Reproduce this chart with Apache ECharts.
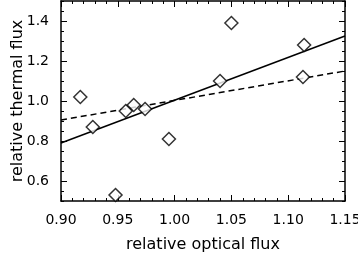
<!DOCTYPE html>
<html><head><meta charset="utf-8">
<script src="https://cdn.jsdelivr.net/npm/echarts@6/dist/echarts.min.js"></script>
<style>html,body{margin:0;padding:0;background:#fff}#c{width:358px;height:259px}</style>
</head><body><div id="c"></div>
<script>
const xTicks = [0.90, 0.95, 1.00, 1.05, 1.10, 1.15];
const yTicks = [0.6, 0.8, 1.0, 1.2, 1.4];
const pointsX = [0.917, 0.928, 0.957, 0.964, 0.974, 0.995, 0.948, 1.050, 1.040, 1.114, 1.113];
const pointsY = [1.02, 0.87, 0.95, 0.98, 0.96, 0.81, 0.53, 1.39, 1.10, 1.28, 1.12];
const solidFitX = [0.90, 1.15];
const solidFitY = [0.79, 1.325];
const dashedFitX = [0.90, 1.15];
const dashedFitY = [0.905, 1.15];

const font = 'DejaVu Sans, Verdana, sans-serif';
const zip = (a, b) => a.map((v, i) => [v, b[i]]);
const lineCol = { color: '#000', width: 1 };

function xAx(pos, show) {
  return {
    type: 'value', position: pos, min: 0.90, max: 1.15, interval: 0.05,
    axisLine: { show: true, onZero: false, lineStyle: { color: '#000', width: 1.5 } },
    axisTick: { show: true, inside: true, length: 6, lineStyle: lineCol },
    minorTick: { show: true, splitNumber: 5, length: 3, lineStyle: lineCol },
    splitLine: { show: false },
    axisLabel: { show: show, color: '#000', fontFamily: font, fontSize: 14, margin: 12,
      customValues: xTicks, formatter: v => v.toFixed(2) },
    name: show ? 'relative optical flux' : '', nameLocation: 'middle', nameGap: 36,
    nameMoveOverlap: false,
    nameTextStyle: { color: '#000', fontFamily: font, fontSize: 16 }
  };
}
// major (labelled) y axis: ticks only at yTicks
function yMajor(pos, show) {
  return {
    type: 'value', position: pos, min: 0.5, max: 1.5, interval: 0.05,
    axisLine: { show: true, onZero: false, lineStyle: { color: '#000', width: 1.5 } },
    axisTick: { show: true, inside: true, length: 6, customValues: yTicks, lineStyle: lineCol },
    minorTick: { show: false },
    splitLine: { show: false },
    axisLabel: { show: show, color: '#000', fontFamily: font, fontSize: 14, margin: 12,
      customValues: yTicks, formatter: v => v.toFixed(1) },
    name: show ? 'relative thermal flux' : '', nameLocation: 'middle', nameGap: 35,
    nameMoveOverlap: false,
    nameTextStyle: { color: '#000', fontFamily: font, fontSize: 16 }
  };
}
// minor y ticks every 0.05
function yMinor(pos) {
  return {
    type: 'value', position: pos, min: 0.5, max: 1.5, interval: 0.05,
    axisLine: { show: false, onZero: false },
    axisTick: { show: true, inside: true, length: 3, lineStyle: lineCol },
    axisLabel: { show: false }, splitLine: { show: false }
  };
}

const chart = echarts.init(document.getElementById('c'), null, { renderer: 'canvas' });
chart.setOption({
  animation: false,
  backgroundColor: '#fff',
  grid: { left: 61, right: 13, top: 1, bottom: 58, containLabel: false, outerBoundsMode: 'none' },
  xAxis: [xAx('bottom', true), xAx('top', false)],
  yAxis: [yMajor('left', true), yMajor('right', false), yMinor('left'), yMinor('right')],
  series: [
    { type: 'line', data: zip(solidFitX, solidFitY), symbol: 'none', silent: true,
      lineStyle: { color: '#000', width: 1.5 } },
    { type: 'line', data: zip(dashedFitX, dashedFitY), symbol: 'none', silent: true,
      lineStyle: { color: '#000', width: 1.5, type: [6, 4] } },
    { type: 'scatter', data: zip(pointsX, pointsY), symbol: 'diamond', symbolSize: [13, 13],
      itemStyle: { color: '#fff', borderColor: '#000', borderWidth: 1.5 }, z: 5 }
  ]
});
</script></body></html>
